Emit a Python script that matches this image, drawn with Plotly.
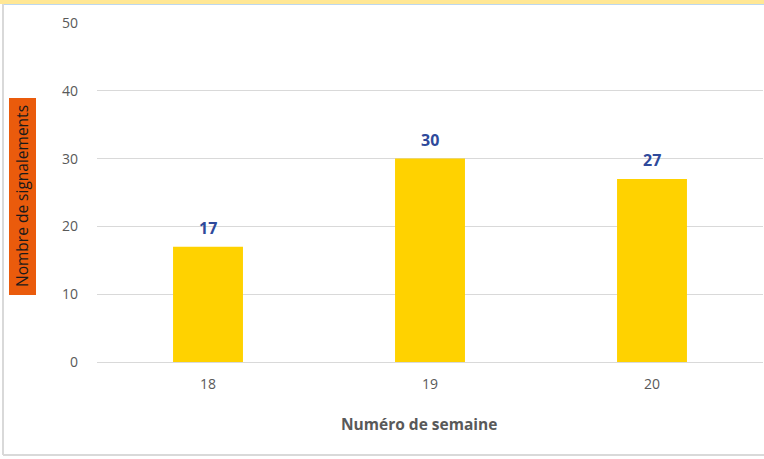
import plotly.graph_objects as go

weeks = ["18", "19", "20"]
counts = [17, 30, 27]
y_ticks = [0, 10, 20, 30, 40, 50]

W, H = 764, 459
L, R, T, B = 97, 1, 23, 97
pw, ph = W - L - R, H - T - B

def px(x):
    return (x - L) / pw

def py(y):
    return (H - B - y) / ph

fig = go.Figure(go.Bar(
    x=weeks, y=counts,
    marker=dict(color="#FFD200", line=dict(width=0)),
    hoverinfo="x+y",
))

# category axis: annotation x given as category index
label_annotations = [
    dict(x=i, y=v, xref="x", yref="y", text=f"<b>{v}</b>", showarrow=False,
         xanchor="center", yanchor="bottom", yshift=6,
         font=dict(family="Open Sans", size=16, color="#2F4A9B"))
    for i, v in enumerate(counts)
]

fig.update_layout(
    width=W, height=H,
    margin=dict(l=L, r=R, t=T, b=B),
    paper_bgcolor="white", plot_bgcolor="white",
    bargap=0.685,
    showlegend=False,
    font=dict(family="Open Sans", color="#595959", size=14),
    xaxis=dict(type="category", range=[-0.5, len(weeks) - 0.5], showgrid=False,
               zeroline=False, showline=False,
               ticks="", tickfont=dict(size=14, color="#595959"), ticklabelstandoff=12),
    yaxis=dict(range=[0, 50], tickvals=y_ticks, showgrid=True, gridcolor="#D9D9D9",
               gridwidth=1, zeroline=True, zerolinecolor="#D9D9D9", zerolinewidth=1,
               showline=False, ticks="", tickfont=dict(size=14, color="#595959"),
               ticklabelstandoff=18),
    shapes=[
        dict(type="rect", xref="paper", yref="paper", x0=px(0), x1=px(W), y0=py(0), y1=py(4),
             fillcolor="#FFE795", line=dict(width=0), layer="below"),
        dict(type="line", xref="paper", yref="paper", x0=px(4), x1=px(W), y0=py(4.5), y1=py(4.5),
             line=dict(color="#BDD7EE", width=1)),
        dict(type="line", xref="paper", yref="paper", x0=px(3), x1=px(3), y0=py(4), y1=py(455),
             line=dict(color="#D9D9D9", width=2)),
        dict(type="line", xref="paper", yref="paper", x0=px(3), x1=px(W), y0=py(455), y1=py(455),
             line=dict(color="#D9D9D9", width=2)),
        dict(type="rect", xref="paper", yref="paper", x0=px(9), x1=px(36), y0=py(98), y1=py(295),
             fillcolor="#EA5B0C", line=dict(width=0)),
    ],
    annotations=[
        dict(text="Nombre de signalements", xref="paper", yref="paper",
             x=px(22.5), y=py(196.5), xanchor="center", yanchor="middle",
             textangle=-90, showarrow=False,
             font=dict(family="Open Sans", size=15.5, color="#1A1A1A")),
        dict(text="<b>Numéro de semaine</b>", xref="paper", yref="paper",
             x=px(418.5), y=py(424), xanchor="center", yanchor="middle",
             showarrow=False, font=dict(family="Open Sans", size=15.5, color="#595959")),
    ] + label_annotations,
)

fig.write_html("out.html", config={"displayModeBar": False},
               post_script="document.body.style.margin='0';document.body.style.overflow='hidden';")
